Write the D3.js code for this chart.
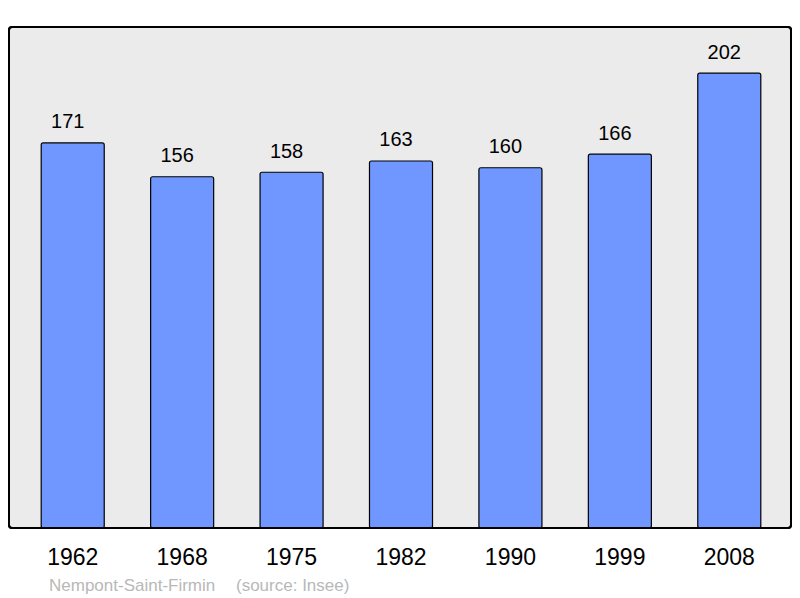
<!DOCTYPE html>
<html>
<head>
<meta charset="utf-8">
<script src="https://cdn.jsdelivr.net/npm/d3@7"></script>
<style>
  body { margin: 0; background: #fff; }
  text { font-family: "Liberation Sans", Arial, sans-serif; }
</style>
</head>
<body>
<div id="chart"></div>
<script>
const years = ["1962", "1968", "1975", "1982", "1990", "1999", "2008"];
const population = [171, 156, 158, 163, 160, 166, 202];
const commune = "Nempont-Saint-Firmin";
const source = "(source: Insee)";

let width = 800,
    height = 598;

let svg = d3.select("#chart").append("svg")
  .attr("width", width)
  .attr("height", height);

let x = d3.scaleBand()
  .domain(years)
  .range([18, 784])
  .paddingInner(0.424)
  .paddingOuter(0.212);

let y = d3.scaleLinear()
  .domain([0, 222.5])
  .range([528, 27]);

// frame
svg.append("rect")
  .attr("x", 9)
  .attr("y", 27)
  .attr("width", 782)
  .attr("height", 501)
  .attr("rx", 3)
  .attr("fill", "#ebebeb")
  .attr("stroke", "#000")
  .attr("stroke-width", 2);

let data = years.map((d, i) => ({ year: d, value: population[i] }));

svg.append("g")
  .selectAll("rect")
  .data(data)
  .enter().append("rect")
    .attr("x", d => x(d.year))
    .attr("y", d => y(d.value))
    .attr("width", x.bandwidth())
    .attr("height", d => y(0) - y(d.value))
    .attr("rx", 2)
    .attr("fill", "#7097ff")
    .attr("stroke", "#000")
    .attr("stroke-width", 1.2);

// value labels sit a bit left of the bar centre
svg.append("g")
  .selectAll("text")
  .data(data)
  .enter().append("text")
    .attr("x", d => x(d.year) + x.bandwidth() / 2 - 5)
    .attr("y", d => y(d.value) - 14.5)
    .attr("text-anchor", "middle")
    .attr("font-size", 20)
    .attr("fill", "#000")
    .text(d => d.value);

// redraw frame border on top of bar bottoms
svg.append("rect")
  .attr("x", 9)
  .attr("y", 27)
  .attr("width", 782)
  .attr("height", 501)
  .attr("rx", 3)
  .attr("fill", "none")
  .attr("stroke", "#000")
  .attr("stroke-width", 2);

let axis = svg.append("g")
  .attr("transform", "translate(0,528)")
  .call(d3.axisBottom(x).tickSize(0).tickPadding(37));
axis.select(".domain").remove();
axis.selectAll("text")
  .attr("font-size", 23)
  .attr("font-family", "Liberation Sans, Arial, sans-serif")
  .attr("fill", "#000")
  .attr("dy", null);

svg.append("text")
  .attr("x", 49)
  .attr("y", 590.5)
  .attr("font-size", 17)
  .attr("fill", "#b8b8b8")
  .text(commune);

svg.append("text")
  .attr("x", 236)
  .attr("y", 590.5)
  .attr("font-size", 17)
  .attr("fill", "#b8b8b8")
  .text(source);
</script>
</body>
</html>
